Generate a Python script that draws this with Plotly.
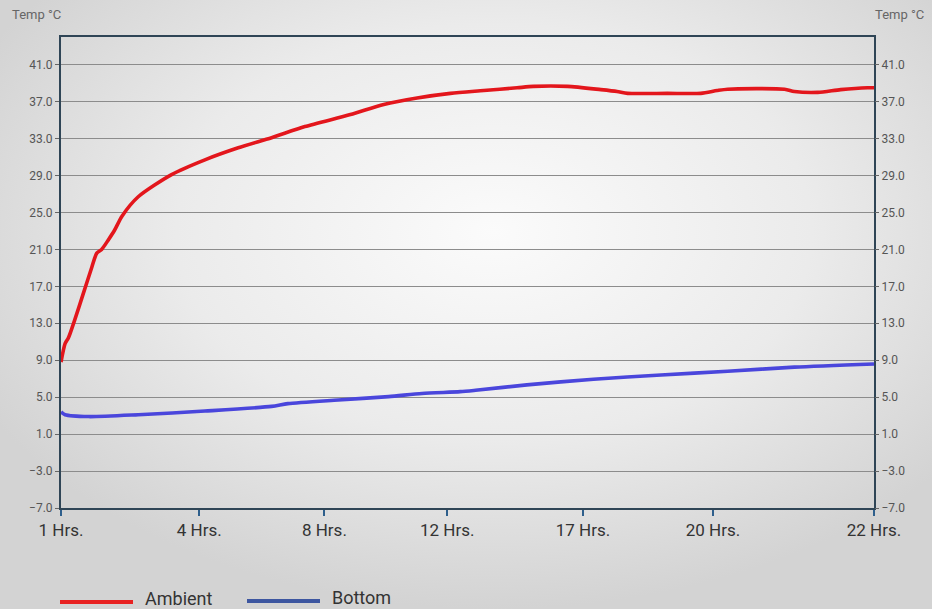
import base64
import plotly.graph_objects as go

# Ambient probe: sample index (0-100 across the logging period) and temperature in °C
ambient_idx = [0, 0.5, 0.9, 1.7, 2.7, 3.8, 4.4, 5.0, 5.8, 6.6, 7.5, 9.5, 13.6, 17.7,
               21.8, 25.9, 30.0, 35.6, 39.7, 43.8, 47.9, 52.0, 56.1, 58.1, 62.3, 66.4,
               68.4, 69.7, 74.6, 78.7, 80.7, 82.0, 89.0, 90.2, 93.1, 95.9, 99.2, 100]
ambient_temp = [8.8, 10.8, 11.4, 13.4, 16.1, 19.1, 20.6, 21.0, 22.0, 23.1, 24.6, 26.7, 29.1, 30.7,
                32.0, 33.1, 34.3, 35.6, 36.7, 37.4, 37.9, 38.2, 38.5, 38.65, 38.65, 38.3,
                38.1, 37.9, 37.9, 37.9, 38.2, 38.35, 38.35, 38.1, 38.0, 38.3, 38.5, 38.5]

# Bottom probe
bottom_idx = [0, 0.5, 3.4, 9.5, 17.7, 25.9, 27.9, 34.1, 40.3, 44.4, 49.1, 51.0,
              57.3, 65.5, 73.8, 82.0, 90.2, 100]
bottom_temp = [3.4, 3.1, 2.9, 3.1, 3.5, 4.0, 4.3, 4.7, 5.06, 5.4, 5.6, 5.75,
               6.33, 6.95, 7.4, 7.8, 8.25, 8.6]

# Elapsed-time labels and where they sit on the sample axis
time_tick_pos = [0, 17.0, 32.4, 47.5, 64.2, 80.2, 100]
time_tick_labels = ["1 Hrs.", "4 Hrs.", "8 Hrs.", "12 Hrs.", "17 Hrs.", "20 Hrs.", "22 Hrs."]

temp_ticks = list(range(-7, 42, 4))
temp_range = [-7, 44]

W, H = 932, 609
ML, MR, MT, MB = 61, 58, 37, 101
PW, PH = W - ML - MR, H - MT - MB

AXIS_COL = "#2f4556"
FONT = "Roboto"


def px_x(px):
    return (px - ML) / PW


def px_y(py):
    return (H - MB - py) / PH


# soft radial backdrop
svg = f"""<svg xmlns='http://www.w3.org/2000/svg' width='{W}' height='{H}'>
<defs><radialGradient id='g' cx='0.53' cy='0.38' r='0.62' gradientUnits='objectBoundingBox'>
<stop offset='0' stop-color='#fbfbfb'/><stop offset='0.55' stop-color='#ebebeb'/>
<stop offset='1' stop-color='#d3d3d3'/></radialGradient></defs>
<rect width='{W}' height='{H}' fill='url(#g)'/></svg>"""
bg_uri = "data:image/svg+xml;base64," + base64.b64encode(svg.encode()).decode()

fig = go.Figure()
fig.add_trace(go.Scatter(x=ambient_idx, y=ambient_temp, mode="lines", name="Ambient",
                         line=dict(color="#e3161c", width=3.6, shape="spline", smoothing=0.7),
                         showlegend=False))
fig.add_trace(go.Scatter(x=bottom_idx, y=bottom_temp, mode="lines", name="Bottom",
                         line=dict(color="#4a46dc", width=3.6, shape="spline", smoothing=0.7),
                         showlegend=False))
# carrier for the right-hand temperature axis
fig.add_trace(go.Scatter(x=[ambient_idx[0]], y=[ambient_temp[0]], yaxis="y2", mode="markers",
                         marker=dict(opacity=0), showlegend=False, hoverinfo="skip"))

fig.update_layout(
    width=W, height=H,
    margin=dict(l=ML, r=MR, t=MT, b=MB),
    paper_bgcolor="rgba(0,0,0,0)",
    plot_bgcolor="rgba(0,0,0,0)",
    images=[dict(source=bg_uri, xref="paper", yref="paper",
                 x=-ML / PW, y=1 + MT / PH, sizex=W / PW, sizey=H / PH,
                 xanchor="left", yanchor="top", sizing="stretch", layer="below")],
    xaxis=dict(range=[0, 100], tickvals=time_tick_pos, ticktext=time_tick_labels,
               showgrid=False, zeroline=False, showline=True, mirror=True,
               linecolor=AXIS_COL, linewidth=2, ticks="outside", ticklen=6, tickwidth=2,
               tickcolor="#2e5f8c", tickfont=dict(family=FONT, size=17, color="#333333"),
               automargin=False),
    yaxis=dict(range=temp_range, tickvals=temp_ticks, tickformat=".1f",
               showgrid=True, gridcolor="#8c8c8c", gridwidth=1.3, zeroline=False,
               showline=True, mirror=True, linecolor=AXIS_COL, linewidth=2,
               ticks="outside", ticklen=4, tickcolor="#666666",
               tickfont=dict(family=FONT, size=12, color="#555555"), automargin=False),
    yaxis2=dict(range=temp_range, tickvals=temp_ticks, tickformat=".1f", overlaying="y",
                side="right", showgrid=False, zeroline=False, showline=False,
                ticks="outside", ticklen=4, tickcolor="#666666",
                tickfont=dict(family=FONT, size=12, color="#555555"), automargin=False),
    annotations=[
        dict(text="Temp °C", xref="paper", yref="paper", x=px_x(10), y=px_y(14),
             xanchor="left", yanchor="middle", showarrow=False,
             font=dict(family=FONT, size=13, color="#666666")),
        dict(text="Temp °C", xref="paper", yref="paper", x=px_x(926), y=px_y(14),
             xanchor="right", yanchor="middle", showarrow=False,
             font=dict(family=FONT, size=13, color="#666666")),
        dict(text="Ambient", xref="paper", yref="paper", x=px_x(143), y=px_y(598),
             xanchor="left", yanchor="middle", showarrow=False,
             font=dict(family=FONT, size=18, color="#333333")),
        dict(text="Bottom", xref="paper", yref="paper", x=px_x(330), y=px_y(597),
             xanchor="left", yanchor="middle", showarrow=False,
             font=dict(family=FONT, size=18, color="#333333")),
    ],
    shapes=[
        dict(type="line", xref="paper", yref="paper", x0=px_x(60), x1=px_x(133),
             y0=px_y(602), y1=px_y(602), line=dict(color="#e82222", width=4)),
        dict(type="line", xref="paper", yref="paper", x0=px_x(247), x1=px_x(320),
             y0=px_y(601), y1=px_y(601), line=dict(color="#3d56a0", width=4)),
    ],
)

fig.write_html("out.html")
